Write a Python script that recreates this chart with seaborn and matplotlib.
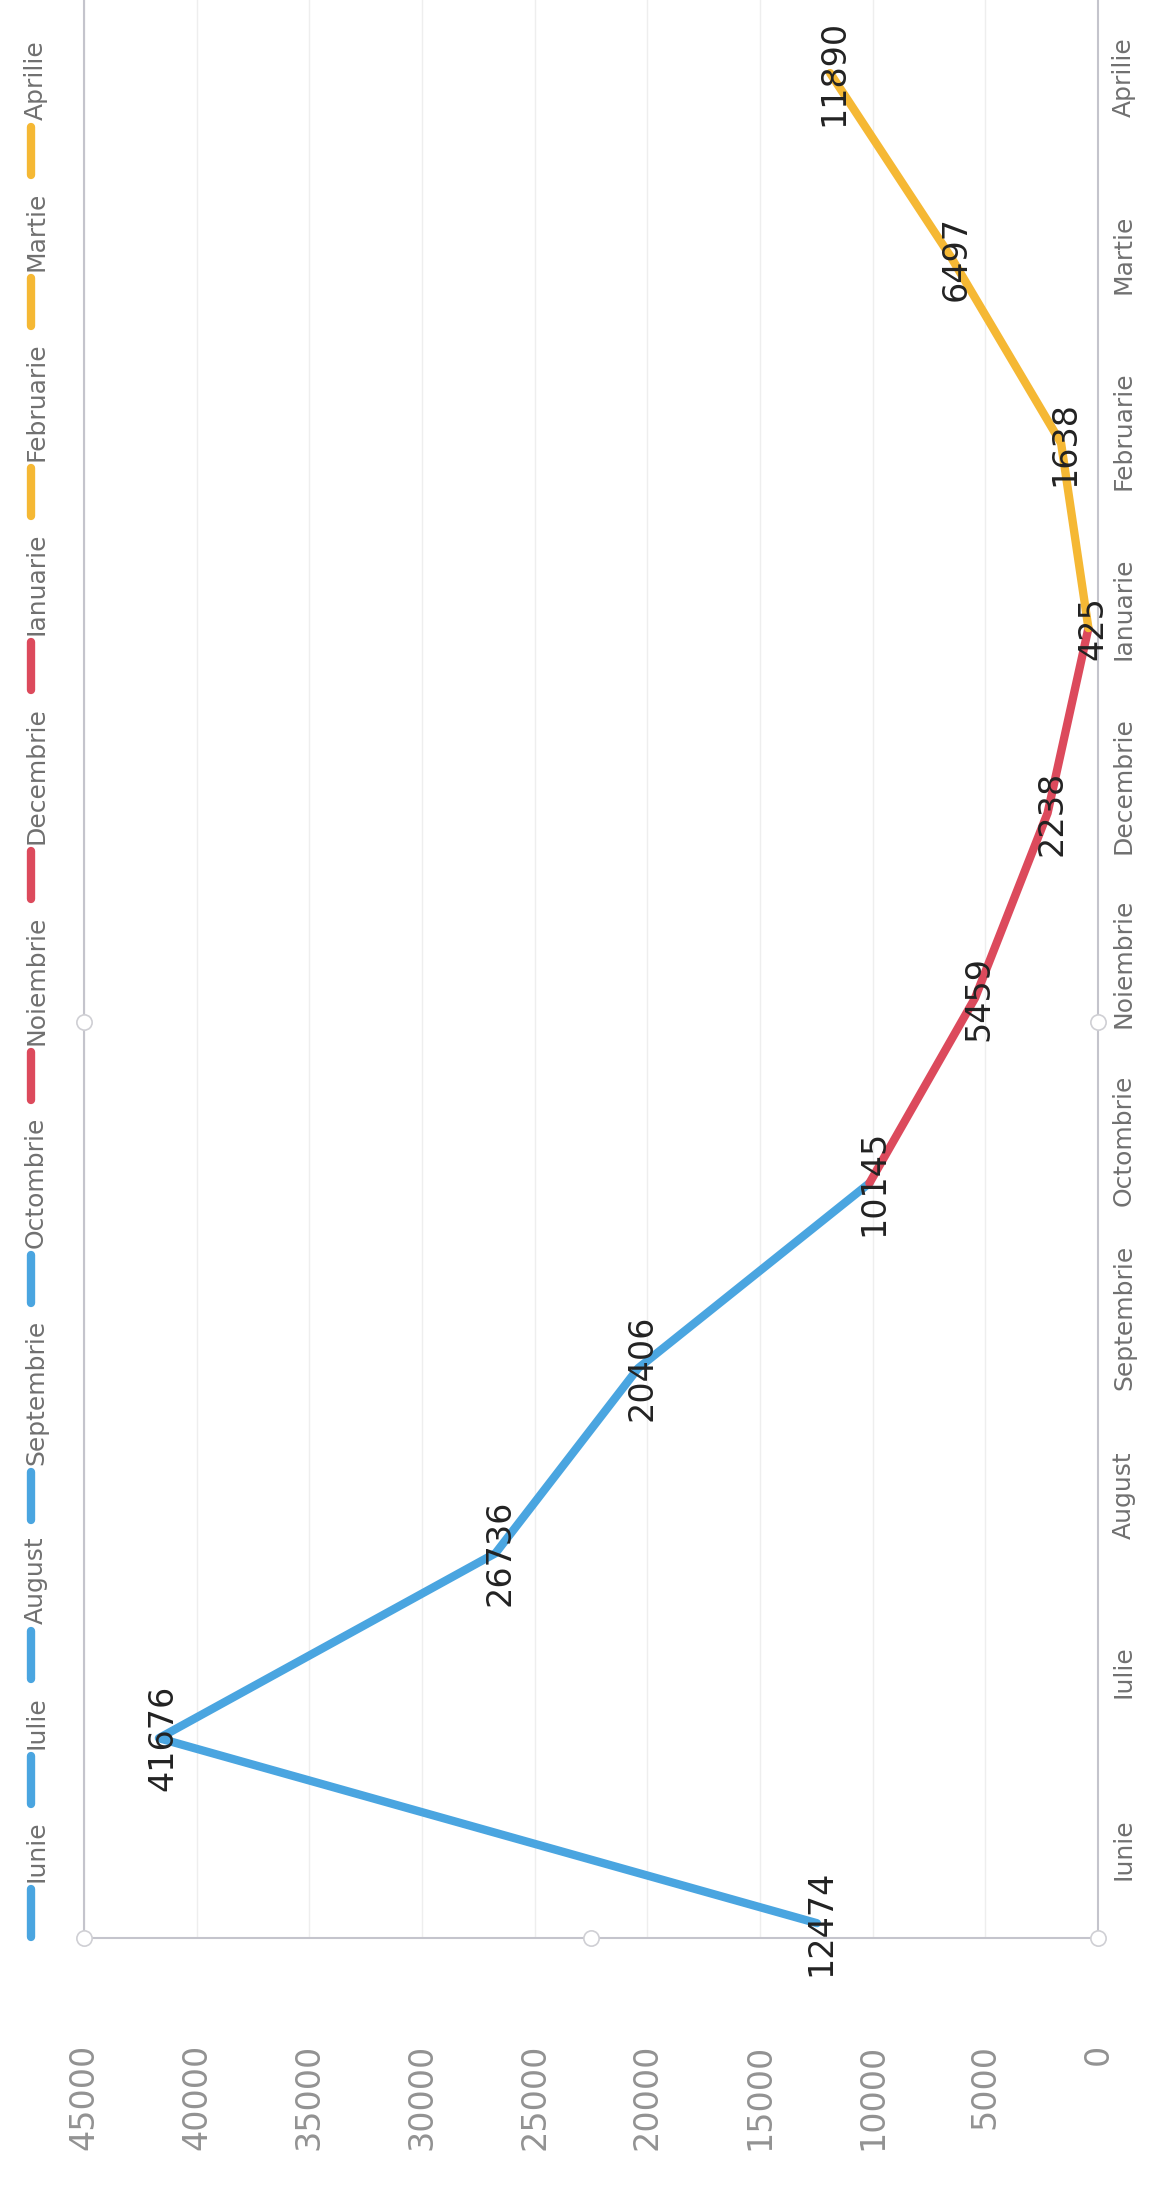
import matplotlib
matplotlib.use("Agg")
import matplotlib.pyplot as plt
import pandas as pd
import seaborn as sns
from matplotlib.lines import Line2D

# date
luni = ["Iunie", "Iulie", "August", "Septembrie", "Octombrie", "Noiembrie",
        "Decembrie", "Ianuarie", "Februarie", "Martie", "Aprilie"]
valori = [12474, 41676, 26736, 20406, 10145, 5459, 2238, 425, 1638, 6497, 11890]
# culoarea fiecarei luni (segmentul care ajunge in luna respectiva)
grup_luna = ["albastru"] * 5 + ["rosu"] * 3 + ["galben"] * 3
culori = {"albastru": "#4AA5E0", "rosu": "#DC4A5C", "galben": "#F5B834"}
valori_ticks = list(range(0, 45001, 5000))

W, H = 1154, 2192
sns.set_style("white")
plt.rcParams["font.family"] = ["DejaVu Sans"]

fig = plt.figure(figsize=(W / 100, H / 100), dpi=100)
ax = fig.add_axes([84 / W, 1 - 1938 / H, (1098 - 84) / W, 1950 / H])

# segmentele: fiecare grup include si punctul de legatura anterior
rows = []
for g in ["albastru", "rosu", "galben"]:
    idx = [i for i, gl in enumerate(grup_luna) if gl == g]
    if idx[0] > 0:
        idx = [idx[0] - 1] + idx
    for i in idx:
        rows.append({"grup": g, "poz": i, "valoare": valori[i]})
df = pd.DataFrame(rows)

# stratul cu datele (scanarea e usor deformata fata de etichetele lunilor)
ax2 = ax.twinx()
sns.lineplot(data=df, x="valoare", y="poz", hue="grup", palette=culori,
             sort=False, estimator=None, linewidth=6, legend=False, ax=ax2,
             solid_capstyle="round")
ax2.set_ylim(-0.08, 10.46)
ax2.axis("off")

ax.set_xlim(45000, 0)
ax.set_ylim(-0.5, len(luni) - 0.5)
ax.set_xticks(valori_ticks)
ax.set_xticklabels([str(v) for v in valori_ticks], rotation=90, fontsize=24,
                   color="#929292")
ax.tick_params(axis="x", length=0, pad=76)
ax.yaxis.tick_right()
ax.set_yticks(range(len(luni)))
ax.set_yticklabels(luni, rotation=90, va="center", fontsize=18, color="#707070")
ax.tick_params(axis="y", length=0, pad=10, left=False, labelleft=False,
               right=True, labelright=True)

ax.grid(axis="x", color="#eeeeee", lw=1)
ax.grid(axis="y", visible=False)
for s in ["left", "bottom", "right"]:
    ax.spines[s].set_color("#c4c4cc")
    ax.spines[s].set_linewidth(1.5)
ax.spines["top"].set_visible(False)

# etichete de date
for i, v in enumerate(valori):
    ax2.annotate(str(v), (v, i), xytext=(3, 0), textcoords="offset points",
                 rotation=90, ha="center", va="center", fontsize=24,
                 color="#222222")

# manere de selectie ale zonei de desenare
for px, py in [(0, 0), (0.5, 0), (1, 0), (0, 0.47), (1, 0.47)]:
    ax.plot(px, py, "o", ms=11, mfc="white", mec="#cfcfd4", mew=1.2,
            transform=ax.transAxes, clip_on=False, zorder=5)

# legenda rotita, construita manual
culori_leg = [culori[g] for g in grup_luna]
renderer = fig.canvas.get_renderer()
texte = [fig.text(36 / W, 0.5, n, rotation=90, ha="center", va="bottom",
                  fontsize=18, color="#707070") for n in luni]
inaltimi = [t.get_window_extent(renderer).height for t in texte]
L, g = 48, 7
y_start, y_end = 1937, 40
G = ((y_start - y_end) - sum(inaltimi) - len(luni) * (L + g)) / (len(luni) - 1)
y = y_start
for t, h, c in zip(texte, inaltimi, culori_leg):
    fig.add_artist(Line2D([31 / W, 31 / W], [1 - y / H, 1 - (y - L) / H],
                          color=c, lw=6, solid_capstyle="round"))
    t.set_position((36 / W, 1 - (y - L - g) / H))
    y = y - L - g - h - G

fig.savefig("out.png", dpi=100)
